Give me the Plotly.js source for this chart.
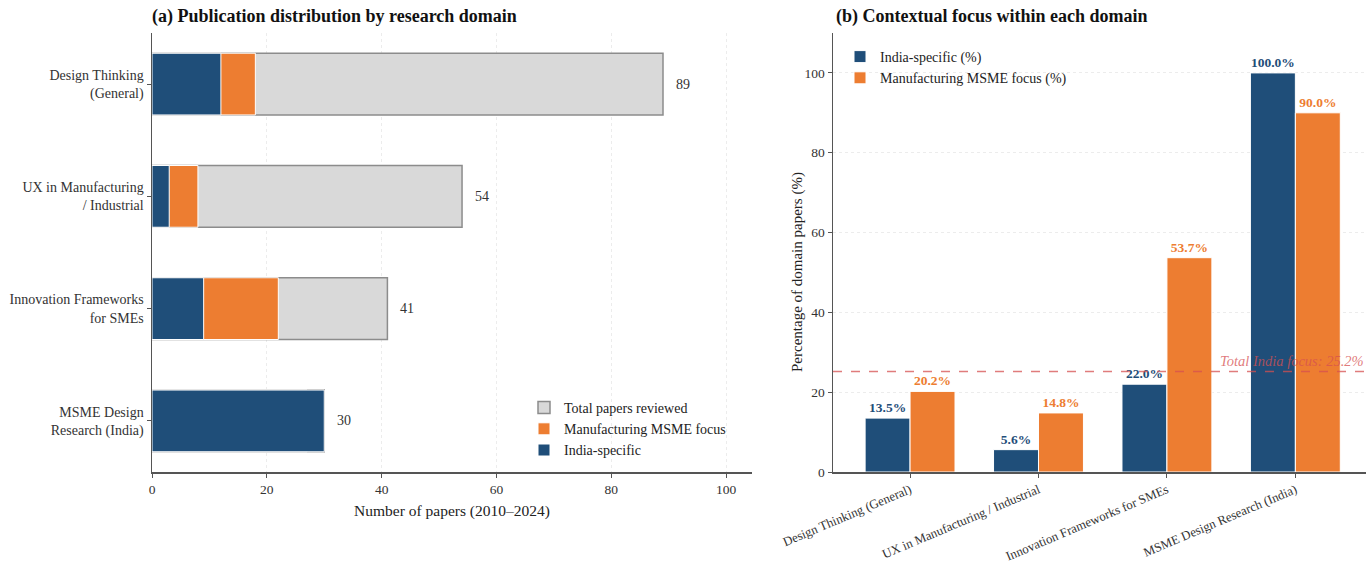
<!DOCTYPE html>
<html>
<head>
<meta charset="utf-8">
<script src="https://cdn.plot.ly/plotly-3.0.1.min.js"></script>
<style>html,body{margin:0;padding:0;background:#fff}#chart{width:1372px;height:565px}</style>
</head>
<body>
<div id="chart"></div>
<script>
// ---- data ----
const categories = ['Design Thinking (General)', 'UX in Manufacturing / Industrial', 'Innovation Frameworks for SMEs', 'MSME Design Research (India)'];
const leftLabels = ['Design Thinking<br>(General)', 'UX in Manufacturing<br>/ Industrial', 'Innovation Frameworks<br>for SMEs', 'MSME Design<br>Research (India)'];
const totalPapers = [89, 54, 41, 30];
const manufPapers = [18, 8, 22, 27];
const indiaPapers = [12, 3, 9, 30];
const indiaPct = [13.5, 5.6, 22.0, 100.0];
const manufPct = [20.2, 14.8, 53.7, 90.0];
const totalIndiaPct = 25.2;
const xTicksLeft = [0, 20, 40, 60, 80, 100];
const yTicksRight = [0, 20, 40, 60, 80, 100];

const NAVY = '#1f4e79', ORANGE = '#ed7d31', GRAY = '#d9d9d9';
const FONT = 'Liberation Serif, Times New Roman, serif';

const traces = [
  {type:'bar', orientation:'h', y:leftLabels, x:totalPapers, width:0.55, name:'Total papers reviewed',
   marker:{color:GRAY, line:{color:'#8c8c8c', width:1.5}}, xaxis:'x', yaxis:'y', legend:'legend'},
  {type:'bar', orientation:'h', y:leftLabels, x:manufPapers, width:0.55, name:'Manufacturing MSME focus',
   marker:{color:ORANGE, line:{color:'#ffffff', width:1}}, xaxis:'x', yaxis:'y', legend:'legend'},
  {type:'bar', orientation:'h', y:leftLabels, x:indiaPapers, width:0.55, name:'India-specific',
   marker:{color:NAVY, line:{color:'#ffffff', width:1}}, xaxis:'x', yaxis:'y', legend:'legend'},
  {type:'bar', x:categories, y:indiaPct, width:0.35, offset:-0.35, name:'India-specific (%)',
   marker:{color:NAVY, line:{color:'#ffffff', width:1}}, xaxis:'x2', yaxis:'y2', legend:'legend2',
   texttemplate:'%{y:.1f}%', textposition:'outside', constraintext:'none', cliponaxis:false,
   textfont:{family:FONT, size:13.5, color:NAVY, weight:'bold'}},
  {type:'bar', x:categories, y:manufPct, width:0.35, offset:0, name:'Manufacturing MSME focus (%)',
   marker:{color:ORANGE, line:{color:'#ffffff', width:1}}, xaxis:'x2', yaxis:'y2', legend:'legend2',
   texttemplate:'%{y:.1f}%', textposition:'outside', constraintext:'none', cliponaxis:false,
   textfont:{family:FONT, size:13.5, color:ORANGE, weight:'bold'}}
];

const annotations = [
  {text:'<b>(a) Publication distribution by research domain</b>', xref:'paper', yref:'paper',
   x:150/1372, y:1-17/565, xanchor:'left', yanchor:'middle', showarrow:false, font:{family:FONT, size:18, color:'#111'}},
  {text:'<b>(b) Contextual focus within each domain</b>', xref:'paper', yref:'paper',
   x:834/1372, y:1-17/565, xanchor:'left', yanchor:'middle', showarrow:false, font:{family:FONT, size:18, color:'#111'}},
  {text:'Total India focus: ' + totalIndiaPct.toFixed(1) + '%', xref:'x2 domain', yref:'y2', x:1, y:totalIndiaPct,
   xanchor:'right', yanchor:'bottom', yshift:0, showarrow:false,
   font:{family:FONT, size:14.5, color:'rgba(214,80,80,0.75)', style:'italic'}},
  {text:'Percentage of domain papers (%)', xref:'paper', yref:'paper', x:797/1372, y:1-272/565,
   xanchor:'center', yanchor:'middle', textangle:-90, showarrow:false, font:{family:FONT, size:15, color:'#222'}}
];
totalPapers.forEach((v, i) => {
  annotations.push({text:String(v), xref:'x', yref:'y', x:v, y:leftLabels[i], xanchor:'left', yanchor:'middle',
    xshift:11, showarrow:false, font:{family:FONT, size:14, color:'#333'}});
});

const axisCommon = {showline:true, linecolor:'#555', linewidth:1.5, ticks:'outside', ticklen:4, tickcolor:'#555',
  tickfont:{family:FONT, size:13.5, color:'#333'}, zeroline:false};

const layout = {
  width:1372, height:565, margin:{l:0, r:0, t:0, b:0}, paper_bgcolor:'#fff', plot_bgcolor:'#fff',
  barmode:'overlay', font:{family:FONT, color:'#333'},
  xaxis:Object.assign({}, axisCommon, {domain:[152/1372, 752/1372], range:[0, 104.5], tickvals:xTicksLeft,
    showgrid:true, gridcolor:'#ececec', gridwidth:1, griddash:'dot', anchor:'y',
    title:{text:'Number of papers (2010–2024)', font:{family:FONT, size:15.5, color:'#222'}, standoff:9}}),
  yaxis:Object.assign({}, axisCommon, {domain:[1-472/565, 1-33/565], type:'category', range:[3.455, -0.455],
    showgrid:false, anchor:'x', tickfont:{family:FONT, size:14, color:'#333'}}),
  xaxis2:Object.assign({}, axisCommon, {domain:[833/1372, 1366/1372], type:'category', range:[-0.6, 3.55],
    tickangle:-23, showgrid:false, anchor:'y2', tickfont:{family:FONT, size:12.8, color:'#333'}}),
  yaxis2:Object.assign({}, axisCommon, {domain:[1-472/565, 1-33/565], range:[0, 110], tickvals:yTicksRight,
    showgrid:true, gridcolor:'#ececec', gridwidth:1, griddash:'dot', anchor:'x2'}),
  legend:{x:524/1372, y:1-392/565, xanchor:'left', yanchor:'top', bgcolor:'rgba(255,255,255,0)',
    font:{family:FONT, size:14, color:'#222'}, traceorder:'normal', tracegroupgap:0},
  legend2:{x:840/1372, y:1-41/565, xanchor:'left', yanchor:'top', bgcolor:'rgba(255,255,255,0)',
    font:{family:FONT, size:14, color:'#222'}, traceorder:'normal'},
  shapes:[{type:'line', xref:'x2 domain', yref:'y2', x0:0, x1:1, y0:totalIndiaPct, y1:totalIndiaPct,
    line:{color:'rgba(214,80,80,0.75)', width:1.5, dash:'dash'}}],
  annotations:annotations,
  showlegend:true
};

Plotly.newPlot('chart', traces, layout, {staticPlot:true, displayModeBar:false});
</script>
</body>
</html>
